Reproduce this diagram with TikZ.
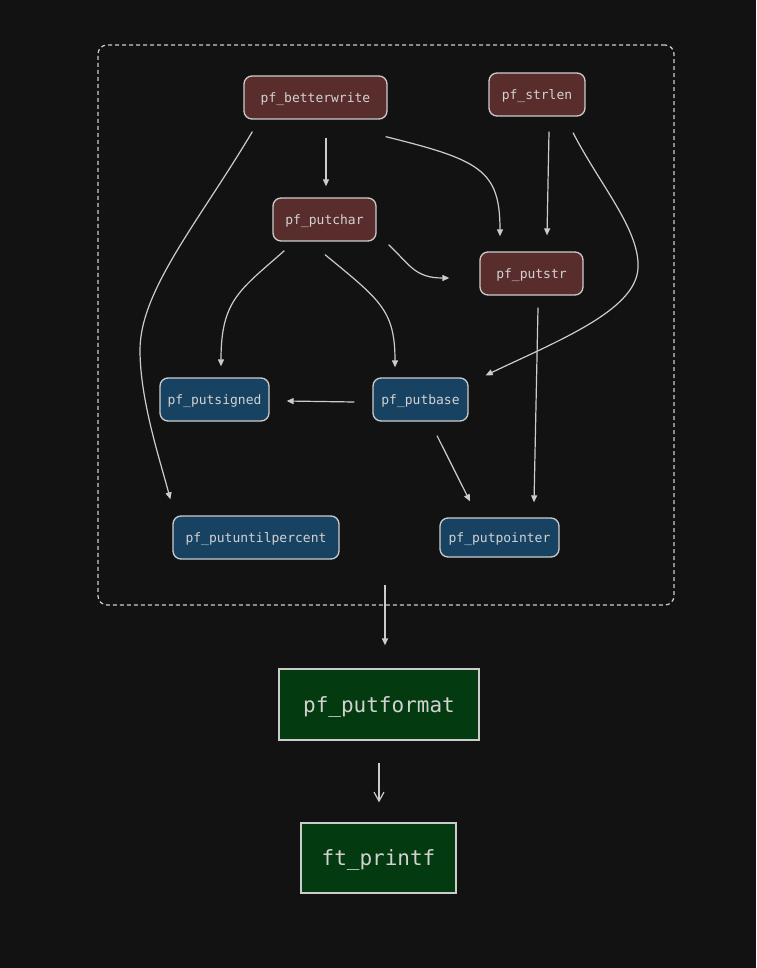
\documentclass[tikz,border=0pt]{standalone}
\usepackage{fontspec}
\setmonofont{DejaVu Sans Mono}
\usetikzlibrary{arrows.meta,calc}
\definecolor{bg}{HTML}{121212}
\definecolor{redfill}{HTML}{5A2D2D}
\definecolor{bluefill}{HTML}{174262}
\definecolor{greenfill}{HTML}{033A0F}
\definecolor{edge}{HTML}{CCCCCC}
\definecolor{txt}{HTML}{D2D2D2}
\begin{document}
\begin{tikzpicture}[x=1pt,y=-1pt,
  fnbox/.style={draw=edge, line width=1.3pt, rounded corners=8pt, inner sep=0pt,
    text=txt, font=\ttfamily\fontsize{13}{15}\selectfont, minimum height=43pt,
    text height=10.5pt, text depth=0pt},
  redbox/.style={fnbox, fill=redfill},
  bluebox/.style={fnbox, fill=bluefill},
  greenbox/.style={draw=edge, line width=1.3pt, fill=greenfill, inner sep=0pt,
    text=txt, font=\ttfamily\fontsize{21}{24}\selectfont, text height=15pt, text depth=0pt},
  arr/.style={draw=edge, line width=1.2pt, -{Triangle[length=7pt,width=6pt]}},
  varr/.style={draw=edge, line width=1.2pt, -{Straight Barb[length=9pt,width=10pt,line width=1.2pt]}}
]
\fill[bg] (0,0) rectangle (756,968);
\useasboundingbox (0,0) rectangle (756,968);

\node[draw=edge, line width=1.2pt, dash pattern=on 4pt off 3pt, rounded corners=9pt,
  minimum width=576pt, minimum height=560pt, inner sep=0pt] (cl) at (386,325) {};

\node[redbox, minimum width=143pt] (bw) at (315.5,97.5) {pf\_betterwrite};
\node[redbox, minimum width=96pt] (sl) at (537,94.5) {pf\_strlen};
\node[redbox, minimum width=103pt] (pc) at (324.5,219.5) {pf\_putchar};
\node[redbox, minimum width=103pt] (ps) at (531.5,273.5) {pf\_putstr};
\node[bluebox, minimum width=109pt] (psg) at (214.5,399.5) {pf\_putsigned};
\node[bluebox, minimum width=95pt] (pb) at (420.5,399.5) {pf\_putbase};
\node[bluebox, minimum width=166pt] (pu) at (256,537.5) {pf\_putuntilpercent};
\node[bluebox, minimum width=119pt, minimum height=39pt] (pp) at (499.5,537.5) {pf\_putpointer};

\node[greenbox, minimum width=200pt, minimum height=71pt] (pf) at (379,704.5) {pf\_putformat};
\node[greenbox, minimum width=155pt, minimum height=70pt] (ft) at (378.5,858) {ft\_printf};

% edges
\draw[arr] ($(bw.south)+(10.5,18)$) -- ($(pc.north)+(1.5,-11)$);
\draw[arr] ($(bw.south east)+(-2,17)$) .. controls (480,160) and (500,170) .. ($(ps.north)+(-31.5,-15)$);
\draw[arr] ($(sl.south)+(12,15)$) -- ($(ps.north)+(15.5,-16)$);
\draw[arr] ($(sl.south)+(36,16)$) .. controls (600,185) and (640,230) .. (638,268)
  .. controls (636,310) and (560,340) .. ($(pb.north east)+(17,-2)$);
\draw[arr] ($(bw.south west)+(9,12)$) .. controls (200,220) and (140,290) .. (140,350)
  .. controls (140,400) and (160,460) .. ($(pu.north west)+(-2,-16)$);
\draw[arr] ($(pc.south west)+(12,9)$) .. controls (240,290) and (221,300) .. ($(psg.north)+(6.5,-11)$);
\draw[arr] ($(pc.south)+(0.5,13)$) .. controls (380,300) and (395,310) .. ($(pb.north)+(-25.5,-10)$);
\draw[arr] ($(pc.south east)+(12,3)$) .. controls (410,265) and (415,278) .. ($(ps.west)+(-30,4.5)$);
\draw[arr] ($(pb.west)+(-18,2.5)$) -- ($(psg.east)+(17,1.5)$);
\draw[arr] ($(pb.south)+(16.5,14)$) -- ($(pp.north)+(-29.5,-16)$);
\draw[arr] ($(ps.south)+(6.5,12)$) -- ($(pp.north)+(34.5,-15)$);
\draw[arr] ($(cl.south)+(-1,-21)$) -- ($(pf.north)+(6,-23)$);
\draw[varr] ($(pf.south)+(0,22)$) -- ($(ft.north)+(0.5,-20)$);
\end{tikzpicture}
\end{document}
